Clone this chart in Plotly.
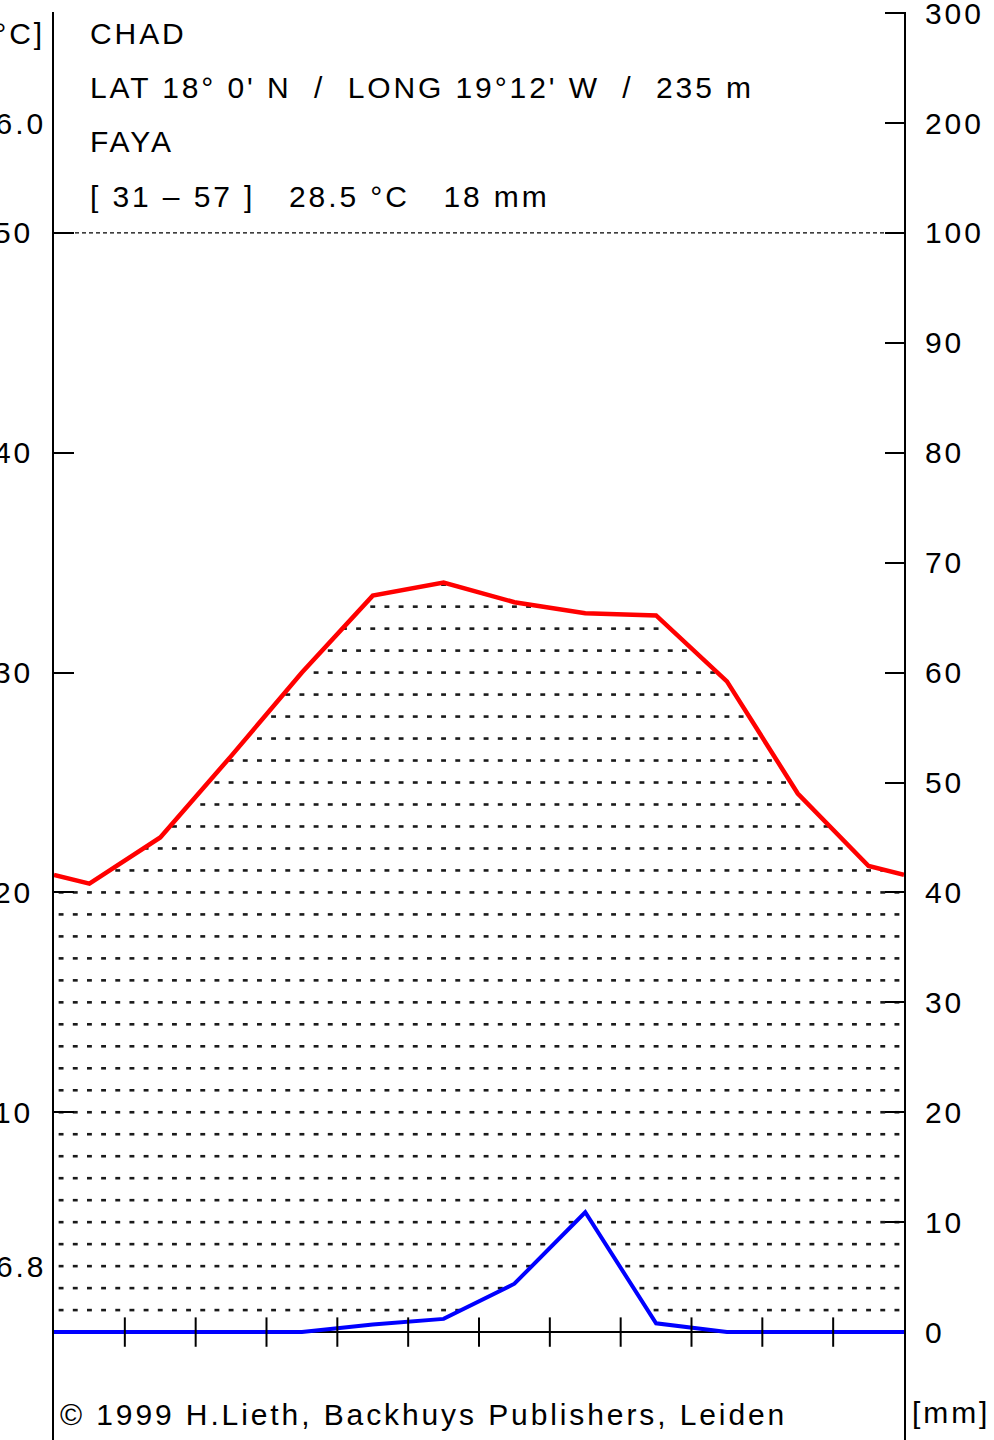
import numpy as np
import plotly.graph_objects as go

# ---------------- data ----------------
months = ["Jan", "Feb", "Mar", "Apr", "May", "Jun", "Jul", "Aug", "Sep", "Oct", "Nov", "Dec"]
temp_c = [20.4, 22.5, 26.2, 30.0, 33.5, 34.1, 33.2, 32.7, 32.6, 29.6, 24.5, 21.2]
precip_mm = [0.0, 0.0, 0.0, 0.0, 0.7, 1.2, 4.4, 10.9, 0.8, 0.0, 0.0, 0.0]

temp_ticks = [10, 20, 30, 40, 50]
precip_ticks = [10, 20, 30, 40, 50, 60, 70, 80, 90, 100, 200, 300]
precip_labels = ["0", "10", "20", "30", "40", "50", "60", "70", "80", "90", "100", "200", "300"]
precip_label_vals = [0, 10, 20, 30, 40, 50, 60, 70, 80, 90, 100, 200, 300]

country = "CHAD"
coords = "LAT 18° 0' N  /  LONG 19°12' W  /  235 m"
station = "FAYA"
stats = "[ 31 – 57 ]   28.5 °C   18 mm"
abs_max = "46.0"
min_cold = "6.8"
copyright_txt = "© 1999 H.Lieth, Backhuys Publishers, Leiden"

FONT = "Liberation Sans, Arial, Helvetica, sans-serif"


def mm_to_u(p):
    p = np.asarray(p, dtype=float)
    return np.where(p <= 100, p / 2.0, 50.0 + (p - 100.0) / 20.0)


# extended series (edges use mean of Dec/Jan)
xc = np.arange(12) + 0.5
x_ext = np.concatenate([[0.0], xc, [12.0]])
t_edge = (temp_c[0] + temp_c[-1]) / 2
p_edge = (precip_mm[0] + precip_mm[-1]) / 2
t_ext = np.concatenate([[t_edge], temp_c, [t_edge]])
p_ext = np.concatenate([[p_edge], precip_mm, [p_edge]])
pu_ext = mm_to_u(p_ext)

# hatching (arid period): dotted rows every 1 unit between curves
cols = 0.1 + 0.2 * np.arange(60)
hx, hy = [], []
for r in range(1, int(np.ceil(max(temp_c))) + 1):
    t_at = np.interp(cols, x_ext, t_ext)
    p_at = np.interp(cols, x_ext, pu_ext)
    m = (r < t_at) & (r > p_at)
    hx.extend(cols[m].tolist())
    hy.extend([r] * int(m.sum()))

fig = go.Figure()

fig.add_trace(go.Scatter(
    x=hx, y=hy, mode="markers", hoverinfo="skip", showlegend=False,
    marker=dict(symbol="line-ew", size=3.5, line=dict(width=2.6, color="#1a1a1a"))
))

# dashed 100 mm / 50 °C line
fig.add_trace(go.Scatter(
    x=[0, 12], y=[temp_ticks[-1]] * 2, mode="lines", hoverinfo="skip", showlegend=False,
    line=dict(color="black", width=1.2, dash="4px,3px")
))

# zero line
fig.add_trace(go.Scatter(
    x=[0, 12], y=[0, 0], mode="lines", hoverinfo="skip", showlegend=False,
    line=dict(color="black", width=2)
))

# temperature
fig.add_trace(go.Scatter(
    x=x_ext, y=t_ext, mode="lines", hoverinfo="skip", showlegend=False,
    line=dict(color="#ff0000", width=4.5)
))

# precipitation
fig.add_trace(go.Scatter(
    x=x_ext, y=pu_ext, mode="lines", hoverinfo="skip", showlegend=False,
    line=dict(color="#0000ff", width=4)
))

# month boundary ticks
fig.add_trace(go.Scatter(
    x=np.arange(1, 12), y=[0] * 11, mode="markers", hoverinfo="skip", showlegend=False,
    marker=dict(symbol="line-ns", size=21, line=dict(width=2, color="black"))
))

# dummy trace for right axis
fig.add_trace(go.Scatter(x=[0], y=[0], yaxis="y2", mode="markers",
                         marker=dict(opacity=0), hoverinfo="skip", showlegend=False))

YR = [-4.909, 60.05]
fig.update_layout(
    width=994, height=1440,
    margin=dict(l=54, r=90, t=12, b=0),
    paper_bgcolor="white", plot_bgcolor="white",
    xaxis=dict(range=[0, 12], visible=False, showgrid=False, zeroline=False),
    yaxis=dict(range=YR, showgrid=False, zeroline=False, showline=True,
               linecolor="black", linewidth=2, ticks="inside", ticklen=20,
               tickwidth=2, tickcolor="black", tickvals=temp_ticks,
               showticklabels=False),
    yaxis2=dict(range=YR, overlaying="y", side="right", showgrid=False,
                zeroline=False, showline=True, linecolor="black", linewidth=2,
                ticks="inside", ticklen=19, tickwidth=2, tickcolor="black",
                tickvals=mm_to_u(precip_ticks).tolist(), showticklabels=False),
    showlegend=False,
)

SP = 2.9


def txt(s, sp=SP):
    return f'<span style="letter-spacing:{sp}px">{s}</span>'


ann = []
font = dict(family=FONT, size=30, color="black")
# header
for s, u in [(country, 59.05), (coords, 56.6), (station, 54.15), (stats, 51.65)]:
    ann.append(dict(text=txt(s), xref="paper", x=0, xshift=34, xanchor="left",
                    yref="y", y=u, yanchor="middle", showarrow=False, font=font))
# left labels
for v in temp_ticks:
    ann.append(dict(text=txt(str(v)), xref="paper", x=0, xshift=-22 + SP, xanchor="right",
                    yref="y", y=v, yanchor="middle", showarrow=False, font=font))
ann.append(dict(text=txt(abs_max), xref="paper", x=0, xshift=-9 + SP, xanchor="right",
                yref="y", y=55, yanchor="middle", showarrow=False, font=font))
ann.append(dict(text=txt(min_cold), xref="paper", x=0, xshift=-9 + SP, xanchor="right",
                yref="y", y=3.0, yanchor="middle", showarrow=False, font=font))
ann.append(dict(text=txt("[°C]"), xref="paper", x=0, xshift=-10 + SP, xanchor="right",
                yref="y", y=59.05, yanchor="middle", showarrow=False, font=font))
# right labels
for s, v in zip(precip_labels, precip_label_vals):
    ann.append(dict(text=txt(s), xref="paper", x=1, xshift=19, xanchor="left",
                    yref="y", y=float(mm_to_u(v)), yanchor="middle", showarrow=False, font=font))
ann.append(dict(text=txt("[mm]"), xref="paper", x=1, xshift=6, xanchor="left",
                yref="y", y=-3.68, yanchor="middle", showarrow=False, font=font))
# copyright
ann.append(dict(text=txt(copyright_txt), xref="paper", x=0, xshift=4, xanchor="left",
                yref="y", y=-3.77, yanchor="middle", showarrow=False, font=font))

fig.update_layout(annotations=ann)
fig.write_html("out.html")
